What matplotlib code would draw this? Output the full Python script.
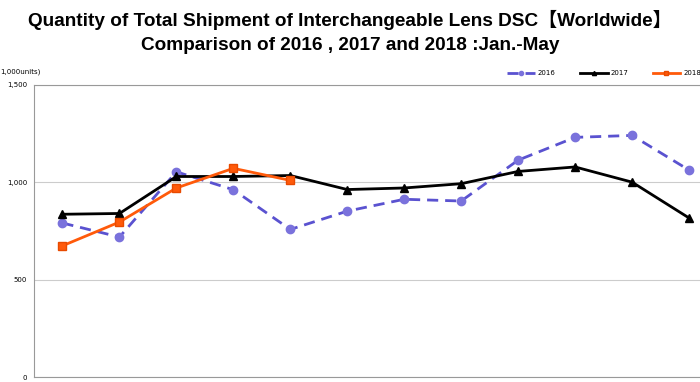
import matplotlib.pyplot as plt

months = list(range(1, 13))
v2016 = [791, 719, 1054, 962, 758, 852, 913, 904, 1114, 1231, 1241, 1063]
v2017 = [836, 840, 1030, 1030, 1035, 963, 971, 993, 1056, 1079, 1001, 817]
v2018 = [674, 796, 971, 1072, 1010]
yticks = [0, 500, 1000, 1500]
ytick_labels = ["0", "500", "1,000", "1,500"]

fig = plt.figure(figsize=(7, 3.82), dpi=100)
ax = fig.add_axes([34 / 700, 5 / 382, 683.5 / 700, 292 / 382])

ax.plot(months, v2016, color="#5a52d0", lw=2, ls=(0, (4, 2.5)), marker="o",
        ms=6, mfc="#7a72dc", mec="#7a72dc", label="2016", zorder=2)
ax.plot(months, v2017, color="black", lw=2, marker="^", ms=6, label="2017", zorder=3)
ax.plot(months[:len(v2018)], v2018, color="#ff5a0a", lw=2, marker="s", ms=6,
        mfc="#ff5a0a", mec="#e84a00", label="2018", zorder=4)

ax.set_xlim(0.5, 12.5)
ax.set_ylim(0, 1500)
ax.set_yticks(yticks)
ax.set_yticklabels(ytick_labels, fontsize=5)
ax.set_xticks([])
ax.tick_params(axis="y", length=0, pad=5)
ax.grid(axis="y", color="#cccccc", lw=0.8)
ax.set_axisbelow(True)
for s in ["left", "bottom", "top"]:
    ax.spines[s].set_color("#999999")
ax.spines["right"].set_visible(False)

fig.text(0.001, 1 - 72 / 382, "1,000units)", fontsize=5, va="center", ha="left")

title_font = ["Liberation Sans", "Noto Sans CJK JP"]
fig.text(0.5, 1 - 20 / 382, "Quantity of Total Shipment of Interchangeable Lens DSC\u3010Worldwide\u3011",
         ha="center", va="center", fontsize=13.7, fontweight="bold", family=title_font)
fig.text(0.5, 1 - 45 / 382, "Comparison of 2016 , 2017 and 2018 :Jan.-May",
         ha="center", va="center", fontsize=13.7, fontweight="bold", family=title_font)

fig.legend(loc="center", bbox_to_anchor=(604 / 700, 1 - 73 / 382), ncol=3,
           fontsize=5, frameon=False, handlelength=4, columnspacing=3.5,
           markerscale=0.5, handletextpad=0.4)

fig.savefig("out.png", dpi=100)
